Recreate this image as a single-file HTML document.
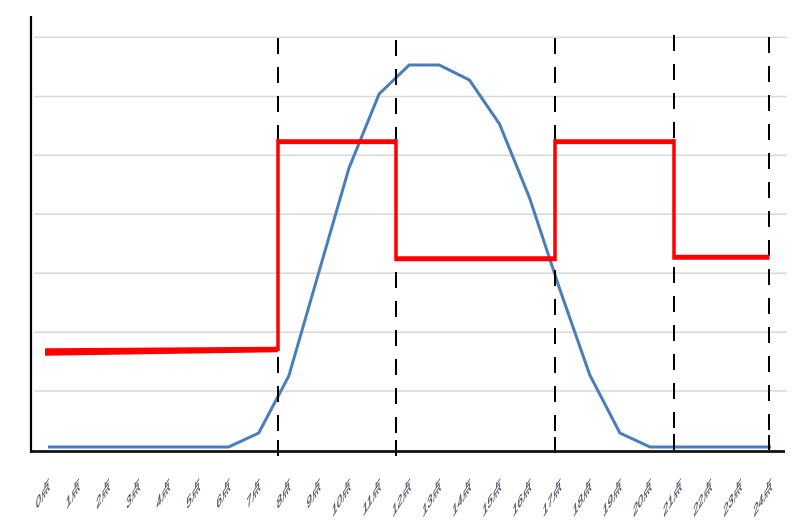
<!DOCTYPE html>
<html>
<head>
<meta charset="utf-8">
<style>
html,body{margin:0;padding:0;background:#fff;}
svg{display:block;}
text{font-family:"Liberation Sans","Noto Sans CJK SC",sans-serif;font-size:16.5px;fill:#4e4f63;stroke:#4e4f63;stroke-width:0.35;}
</style>
</head>
<body>
<svg width="809" height="532" viewBox="0 0 809 532" xmlns="http://www.w3.org/2000/svg">
<rect width="809" height="532" fill="#fff"/>
<!-- gridlines -->
<g stroke="#d9d9d9" stroke-width="1.6">
<line x1="34" y1="37.3" x2="787" y2="37.3"/>
<line x1="34" y1="96.5" x2="787" y2="96.5"/>
<line x1="34" y1="155.3" x2="787" y2="155.3"/>
<line x1="34" y1="214.2" x2="787" y2="214.2"/>
<line x1="34" y1="273.2" x2="787" y2="273.2"/>
<line x1="34" y1="332.2" x2="787" y2="332.2"/>
<line x1="34" y1="391" x2="787" y2="391"/>
</g>
<!-- blue curve -->
<polyline fill="none" stroke="#4a7ebb" stroke-width="3" stroke-linejoin="round"
points="48,447 228.6,447 258.7,433 288.8,376 318.9,272 349,168 379.1,94 409.2,65 439.3,65 469.4,80 499.5,124 529.6,198 559.7,289 589.8,375 619.9,433 650,447 771,447"/>
<!-- dashed lines -->
<g stroke="#000" stroke-width="2" stroke-dasharray="16 13">
<line x1="278" y1="38" x2="278" y2="455"/>
<line x1="396" y1="40" x2="396" y2="455"/>
<line x1="555" y1="38" x2="555" y2="453"/>
<line x1="674" y1="35" x2="674" y2="450"/>
<line x1="769" y1="37" x2="769" y2="450"/>
</g>
<g stroke="#000" stroke-width="2">
<line x1="278" y1="440" x2="278" y2="456"/>
<line x1="396" y1="440" x2="396" y2="456"/>
<line x1="555" y1="437" x2="555" y2="453"/>
<line x1="674" y1="434" x2="674" y2="450"/>
<line x1="769" y1="435" x2="769" y2="450"/>
</g>
<!-- red step line -->
<polygon fill="#ff0000" points="45,348.3 278,346.7 278,352.3 45,355.7"/>
<g stroke="#ff0000" fill="none">
<line x1="278" y1="351" x2="278" y2="139.3" stroke-width="3.5"/>
<line x1="276.5" y1="141.7" x2="397.5" y2="141.7" stroke-width="4.8"/>
<line x1="396" y1="139.3" x2="396" y2="261" stroke-width="3.5"/>
<line x1="394.5" y1="258.7" x2="556.5" y2="258.7" stroke-width="5"/>
<line x1="555" y1="261" x2="555" y2="139.3" stroke-width="3.5"/>
<line x1="553.5" y1="141.7" x2="675.5" y2="141.7" stroke-width="4.8"/>
<line x1="674" y1="139.3" x2="674" y2="259.5" stroke-width="3.5"/>
<line x1="672.5" y1="257.2" x2="769.5" y2="257.2" stroke-width="5"/>
</g>
<!-- axes -->
<line x1="31" y1="16" x2="31" y2="453" stroke="#000" stroke-width="2.2"/>
<line x1="30" y1="451.5" x2="785" y2="451.5" stroke="#111" stroke-width="2.8"/>
<!-- x labels -->
<g text-anchor="end">
<text transform="matrix(0.53,-0.85,0.05,0.9,50,488)">0点</text>
<text transform="matrix(0.53,-0.85,0.05,0.9,80.1,488)">1点</text>
<text transform="matrix(0.53,-0.85,0.05,0.9,110.2,488)">2点</text>
<text transform="matrix(0.53,-0.85,0.05,0.9,140.3,488)">3点</text>
<text transform="matrix(0.53,-0.85,0.05,0.9,170.4,488)">4点</text>
<text transform="matrix(0.53,-0.85,0.05,0.9,200.5,488)">5点</text>
<text transform="matrix(0.53,-0.85,0.05,0.9,230.6,488)">6点</text>
<text transform="matrix(0.53,-0.85,0.05,0.9,260.7,488)">7点</text>
<text transform="matrix(0.53,-0.85,0.05,0.9,290.8,488)">8点</text>
<text transform="matrix(0.53,-0.85,0.05,0.9,320.9,488)">9点</text>
<text transform="matrix(0.53,-0.85,0.05,0.9,351,488)">10点</text>
<text transform="matrix(0.53,-0.85,0.05,0.9,381.1,488)">11点</text>
<text transform="matrix(0.53,-0.85,0.05,0.9,411.2,488)">12点</text>
<text transform="matrix(0.53,-0.85,0.05,0.9,441.3,488)">13点</text>
<text transform="matrix(0.53,-0.85,0.05,0.9,471.4,488)">14点</text>
<text transform="matrix(0.53,-0.85,0.05,0.9,501.5,488)">15点</text>
<text transform="matrix(0.53,-0.85,0.05,0.9,531.6,488)">16点</text>
<text transform="matrix(0.53,-0.85,0.05,0.9,561.7,488)">17点</text>
<text transform="matrix(0.53,-0.85,0.05,0.9,591.8,488)">18点</text>
<text transform="matrix(0.53,-0.85,0.05,0.9,621.9,488)">19点</text>
<text transform="matrix(0.53,-0.85,0.05,0.9,652,488)">20点</text>
<text transform="matrix(0.53,-0.85,0.05,0.9,682.1,488)">21点</text>
<text transform="matrix(0.53,-0.85,0.05,0.9,712.2,488)">22点</text>
<text transform="matrix(0.53,-0.85,0.05,0.9,742.3,488)">23点</text>
<text transform="matrix(0.53,-0.85,0.05,0.9,772.4,488)">24点</text>
</g>
</svg>
</body>
</html>
